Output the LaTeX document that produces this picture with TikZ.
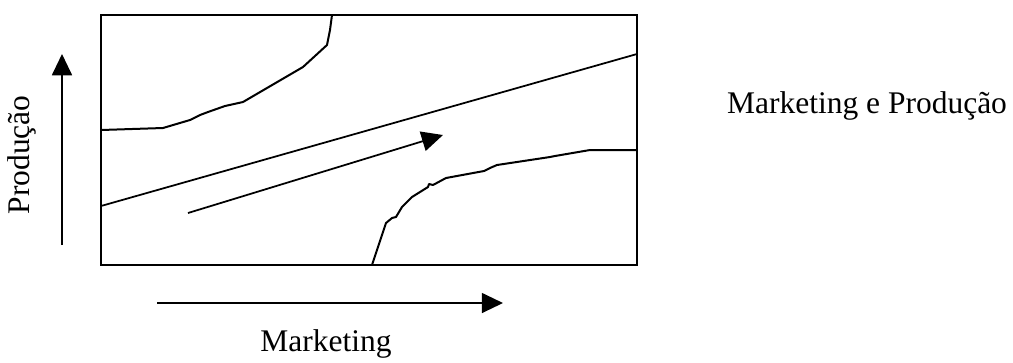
\documentclass[tikz,border=0pt]{standalone}
\usepackage{fontspec}
\setmainfont{Liberation Serif}
\usepackage{tikz}
\usetikzlibrary{arrows.meta, positioning}

\begin{document}
\begin{tikzpicture}[x=0.4pt,y=-0.4pt,
    font=\fontsize{12.6}{15}\selectfont,
    axis/.style={-{Triangle[length=8.5pt,width=8pt]},line width=0.7pt},
    border/.style={line width=0.8pt},
    curve/.style={line width=0.8pt,line join=round}]

        \useasboundingbox (0,0) rectangle (1013,362);

        %=====================
        % Frame
        %=====================
        \draw[border] (101,15) rectangle (637,265);

        %=====================
        % Boundary curves
        %=====================
        % upper left
        \draw[curve] (101,130) -- (163,128) -- (190,120) -- (200,115)
        -- (208,112) -- (225,106) -- (243,102) -- (303,67) -- (327,45)
        -- (330,30) -- (332,15);

        % lower right
        \draw[curve] (372,265) -- (386,223) -- (392,218) -- (396,217)
        -- (402,207) -- (412,197) -- (428,187) -- (429,184) -- (433,185)
        -- (446,178) -- (484,171) -- (490,168) -- (497,165) -- (550,157)
        -- (555,156) -- (590,150) -- (637,150);

        %=====================
        % Diagonal and direction arrow
        %=====================
        \coordinate (diagA) at (101,206);
        \coordinate (diagB) at (637,54);
        \draw[line width=0.7pt] (diagA) -- (diagB);

        \coordinate (dirA) at (188,213);
        \coordinate (dirB) at (443,135);
        \draw[axis] (dirA) -- (dirB);

        %=====================
        % Axes and labels
        %=====================
        \coordinate (yA) at (62,245);
        \coordinate (yB) at (62,54);
        \draw[axis] (yA) -- (yB);
        \node[rotate=90] (prod) at (22,155) {Produção};

        \coordinate (xA) at (157,303);
        \coordinate (xB) at (503,303);
        \draw[axis] (xA) -- (xB);
        \node (mkt) at (326,344) {Marketing};

        \node (title) at (867,106) {Marketing e Produção};

\end{tikzpicture}
\end{document}
